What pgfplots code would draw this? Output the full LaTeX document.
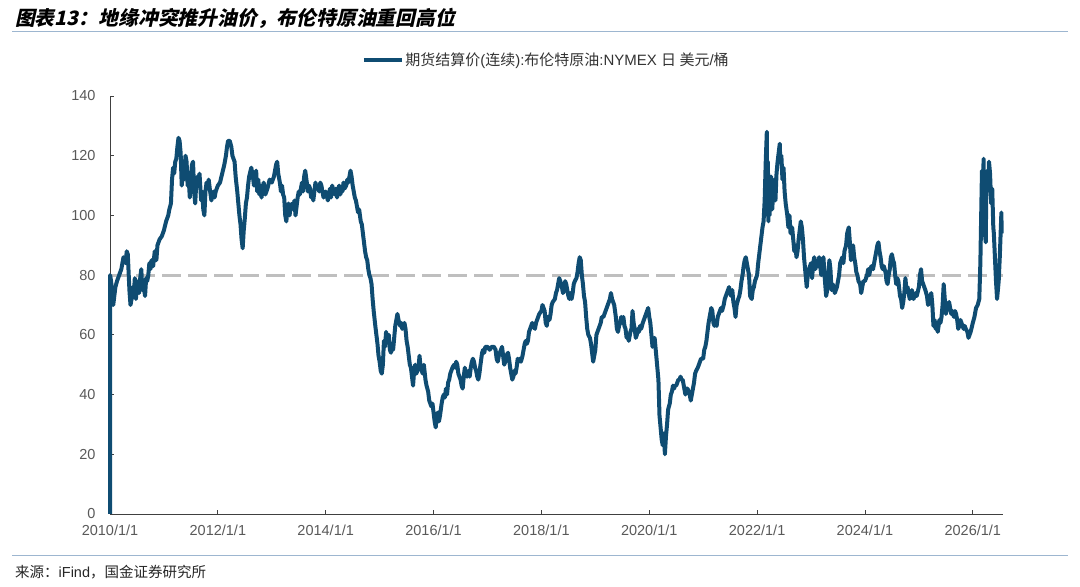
\documentclass[border=0pt]{standalone}
\usepackage{pgfplots}
\pgfplotsset{compat=1.18}
\usepackage{pgfplotstable}
\usepackage{fontspec}
\setmainfont{Liberation Sans}
\newfontfamily\cjk{Noto Sans CJK SC}
\newfontfamily\cjkt[FakeSlant=0.22]{Noto Sans CJK SC}
\definecolor{brent}{HTML}{0F4C72}
\definecolor{dashgray}{HTML}{BFBFBF}
\definecolor{tickgray}{HTML}{595959}
\definecolor{rulecol}{HTML}{9DB6D0}
\pgfplotstableread{
x y
2010.000 0
2010.002 80
2010.02 78
2010.04 74
2010.06 70
2010.08 73
2010.10 76
2010.13 78
2010.17 80
2010.21 82
2010.25 86
2010.29 84
2010.31 88
2010.33 87
2010.36 75
2010.38 70
2010.40 72
2010.42 76
2010.44 73
2010.46 79
2010.48 72
2010.50 76
2010.52 78
2010.54 74
2010.56 79
2010.58 82
2010.60 75
2010.62 77
2010.65 73
2010.67 79
2010.69 78
2010.71 80
2010.73 84
2010.75 82
2010.77 85
2010.80 83
2010.83 88
2010.86 85
2010.88 90
2010.92 92
2010.96 93
2011.00 95
2011.04 98
2011.08 100
2011.10 102
2011.13 104
2011.15 112
2011.17 116
2011.19 114
2011.21 118
2011.23 119
2011.25 123
2011.27 126
2011.29 125
2011.31 121
2011.33 110
2011.35 114
2011.37 112
2011.40 120
2011.42 118
2011.44 110
2011.46 112
2011.48 106
2011.50 113
2011.52 117
2011.54 118
2011.56 108
2011.58 104
2011.60 111
2011.62 113
2011.64 110
2011.66 114
2011.69 105
2011.71 108
2011.73 102
2011.75 100
2011.77 108
2011.79 111
2011.81 109
2011.83 112
2011.85 109
2011.88 105
2011.90 107
2011.92 108
2011.94 106
2011.96 108
2012.00 110
2012.04 111
2012.08 114
2012.12 117
2012.15 120
2012.17 123
2012.19 125
2012.22 125
2012.25 123
2012.27 120
2012.29 119
2012.31 118
2012.33 113
2012.36 108
2012.38 104
2012.40 100
2012.42 97
2012.44 92
2012.46 89
2012.48 95
2012.50 99
2012.52 104
2012.54 106
2012.56 110
2012.58 113
2012.62 116
2012.65 113
2012.67 110
2012.69 112
2012.71 115
2012.73 108
2012.75 112
2012.77 107
2012.79 110
2012.81 106
2012.83 109
2012.85 111
2012.88 107
2012.92 109
2012.96 112
2013.00 111
2013.04 113
2013.08 117
2013.10 118
2013.12 114
2013.15 111
2013.17 108
2013.19 110
2013.21 107
2013.23 106
2013.25 100
2013.27 98
2013.29 102
2013.31 104
2013.33 100
2013.35 103
2013.38 104
2013.40 102
2013.42 105
2013.44 100
2013.46 103
2013.48 106
2013.50 108
2013.52 107
2013.54 109
2013.56 111
2013.58 108
2013.60 113
2013.62 115
2013.65 111
2013.67 108
2013.69 110
2013.71 109
2013.73 106
2013.75 108
2013.77 105
2013.79 108
2013.81 111
2013.83 109
2013.85 110
2013.88 108
2013.90 111
2013.92 110
2013.96 106
2014.00 108
2014.04 105
2014.06 107
2014.08 109
2014.10 106
2014.12 110
2014.15 108
2014.17 107
2014.19 109
2014.21 106
2014.23 108
2014.25 110
2014.27 107
2014.29 109
2014.31 108
2014.33 111
2014.35 109
2014.38 110
2014.40 112
2014.42 111
2014.44 113
2014.46 115
2014.48 113
2014.50 110
2014.52 108
2014.54 106
2014.56 105
2014.58 103
2014.60 101
2014.62 102
2014.65 98
2014.67 97
2014.69 94
2014.71 91
2014.73 88
2014.75 86
2014.77 85
2014.79 82
2014.81 80
2014.83 79
2014.85 77
2014.87 72
2014.89 68
2014.92 63
2014.94 60
2014.96 57
2014.98 53
2015.00 51
2015.02 48
2015.04 47
2015.06 50
2015.08 58
2015.10 56
2015.12 61
2015.14 58
2015.17 60
2015.19 55
2015.21 54
2015.23 57
2015.25 55
2015.27 59
2015.29 63
2015.31 65
2015.33 67
2015.35 65
2015.38 63
2015.40 64
2015.42 62
2015.44 63
2015.46 64
2015.48 62
2015.50 58
2015.52 56
2015.54 53
2015.56 50
2015.58 49
2015.60 46
2015.62 43
2015.64 48
2015.66 50
2015.68 47
2015.70 48
2015.72 49
2015.74 53
2015.76 49
2015.78 48
2015.80 47
2015.82 50
2015.85 45
2015.87 43
2015.90 41
2015.92 38
2015.94 37
2015.96 36
2015.98 37
2016.00 34
2016.02 31
2016.04 29
2016.06 33
2016.08 34
2016.10 31
2016.12 33
2016.15 37
2016.17 39
2016.19 40
2016.21 39
2016.23 42
2016.25 40
2016.27 44
2016.29 45
2016.31 47
2016.33 48
2016.35 49
2016.38 50
2016.40 49
2016.42 51
2016.44 50
2016.46 47
2016.48 46
2016.50 45
2016.52 43
2016.54 42
2016.56 46
2016.58 49
2016.60 47
2016.62 46
2016.65 48
2016.67 46
2016.69 49
2016.71 51
2016.73 52
2016.75 51
2016.77 49
2016.79 48
2016.81 46
2016.83 45
2016.85 47
2016.87 50
2016.90 54
2016.92 55
2016.94 54
2016.96 56
2017.00 56
2017.04 55
2017.08 56
2017.12 56
2017.15 55
2017.17 52
2017.19 51
2017.21 53
2017.25 55
2017.27 56
2017.29 53
2017.31 50
2017.33 51
2017.35 53
2017.38 54
2017.40 52
2017.42 49
2017.44 47
2017.46 45
2017.48 46
2017.50 48
2017.52 47
2017.54 49
2017.56 52
2017.58 51
2017.60 52
2017.62 51
2017.65 53
2017.67 55
2017.69 57
2017.71 58
2017.73 57
2017.75 58
2017.77 61
2017.79 62
2017.81 63
2017.83 64
2017.85 63
2017.88 62
2017.90 64
2017.92 65
2017.96 67
2018.00 68
2018.02 70
2018.04 69
2018.06 68
2018.08 64
2018.10 63
2018.12 66
2018.15 65
2018.17 67
2018.19 70
2018.21 71
2018.25 72
2018.27 74
2018.29 75
2018.31 77
2018.33 79
2018.35 78
2018.38 76
2018.40 74
2018.42 75
2018.44 78
2018.46 77
2018.48 75
2018.50 73
2018.52 72
2018.54 74
2018.56 72
2018.58 74
2018.60 77
2018.62 78
2018.65 79
2018.67 81
2018.69 84
2018.71 86
2018.73 85
2018.75 80
2018.77 77
2018.79 73
2018.81 71
2018.83 66
2018.85 62
2018.87 60
2018.90 59
2018.92 57
2018.94 54
2018.96 51
2018.98 53
2019.00 55
2019.02 60
2019.04 61
2019.06 62
2019.08 63
2019.10 64
2019.12 66
2019.15 66
2019.17 67
2019.19 68
2019.21 69
2019.23 70
2019.25 71
2019.27 72
2019.29 74
2019.31 72
2019.33 71
2019.35 70
2019.38 66
2019.40 62
2019.42 61
2019.44 63
2019.46 64
2019.48 66
2019.50 64
2019.52 66
2019.54 63
2019.56 62
2019.58 59
2019.60 60
2019.62 58
2019.65 61
2019.67 62
2019.69 68
2019.71 64
2019.73 62
2019.75 59
2019.77 60
2019.79 62
2019.81 61
2019.83 63
2019.85 62
2019.88 64
2019.90 65
2019.92 66
2019.94 67
2019.96 68
2019.98 69
2020.00 66
2020.02 64
2020.04 60
2020.06 56
2020.08 57
2020.10 59
2020.12 55
2020.14 51
2020.17 45
2020.19 33
2020.21 29
2020.23 25
2020.25 23
2020.27 27
2020.29 20
2020.31 26
2020.33 30
2020.35 35
2020.38 37
2020.40 40
2020.42 41
2020.44 43
2020.46 42
2020.48 43
2020.50 43
2020.52 44
2020.54 45
2020.56 45
2020.58 46
2020.60 45
2020.62 45
2020.65 42
2020.67 40
2020.69 42
2020.71 42
2020.73 41
2020.75 40
2020.77 38
2020.79 40
2020.81 42
2020.83 44
2020.85 47
2020.87 48
2020.90 49
2020.92 50
2020.94 51
2020.96 52
2021.00 52
2021.02 55
2021.04 56
2021.06 58
2021.08 61
2021.10 64
2021.12 66
2021.15 69
2021.17 68
2021.19 64
2021.21 63
2021.23 64
2021.25 63
2021.27 66
2021.29 67
2021.31 68
2021.33 69
2021.35 68
2021.38 70
2021.40 72
2021.42 73
2021.44 74
2021.46 75
2021.48 76
2021.50 74
2021.52 73
2021.54 75
2021.56 71
2021.58 69
2021.60 66
2021.62 70
2021.65 72
2021.67 73
2021.69 75
2021.71 78
2021.73 80
2021.75 83
2021.77 85
2021.79 86
2021.81 84
2021.83 82
2021.85 80
2021.87 73
2021.90 72
2021.92 75
2021.94 76
2021.96 78
2022.00 80
2022.02 84
2022.04 87
2022.06 90
2022.08 93
2022.10 96
2022.12 98
2022.14 105
2022.16 118
2022.18 128
2022.19 100
2022.20 118
2022.21 98
2022.22 112
2022.23 100
2022.24 110
2022.25 104
2022.26 113
2022.28 102
2022.30 108
2022.32 112
2022.34 105
2022.36 114
2022.38 118
2022.40 121
2022.42 124
2022.43 118
2022.45 120
2022.47 112
2022.49 116
2022.51 108
2022.53 104
2022.56 100
2022.58 96
2022.60 100
2022.62 94
2022.65 96
2022.67 92
2022.69 88
2022.71 90
2022.73 86
2022.75 88
2022.77 92
2022.79 95
2022.81 98
2022.83 96
2022.85 92
2022.87 86
2022.90 80
2022.92 76
2022.94 80
2022.96 82
2023.00 84
2023.02 79
2023.04 84
2023.06 86
2023.08 82
2023.10 84
2023.12 83
2023.15 86
2023.17 83
2023.19 80
2023.21 82
2023.23 86
2023.25 80
2023.28 73
2023.30 75
2023.32 80
2023.34 85
2023.36 82
2023.38 75
2023.40 77
2023.42 76
2023.44 74
2023.46 75
2023.48 76
2023.50 78
2023.52 80
2023.54 84
2023.56 85
2023.58 86
2023.60 84
2023.62 88
2023.65 90
2023.67 94
2023.70 96
2023.72 91
2023.74 85
2023.76 88
2023.78 90
2023.80 86
2023.82 84
2023.84 81
2023.86 80
2023.88 78
2023.91 77
2023.93 74
2023.95 76
2023.97 78
2024.00 78
2024.02 79
2024.04 80
2024.06 82
2024.08 80
2024.10 82
2024.12 83
2024.15 82
2024.17 84
2024.19 86
2024.21 88
2024.23 90
2024.25 91
2024.27 88
2024.29 86
2024.31 83
2024.33 82
2024.35 83
2024.38 81
2024.40 78
2024.42 77
2024.44 80
2024.46 82
2024.48 86
2024.50 87
2024.52 85
2024.54 84
2024.56 80
2024.58 77
2024.60 79
2024.62 78
2024.65 73
2024.67 72
2024.69 69
2024.71 71
2024.73 74
2024.75 79
2024.77 75
2024.79 76
2024.81 74
2024.83 72
2024.85 73
2024.87 75
2024.90 72
2024.92 73
2024.94 74
2024.96 73
2025.00 76
2025.02 80
2025.04 82
2025.06 78
2025.08 77
2025.10 76
2025.12 75
2025.15 73
2025.17 70
2025.19 71
2025.21 73
2025.23 74
2025.25 70
2025.27 63
2025.29 65
2025.31 62
2025.33 64
2025.35 61
2025.38 65
2025.40 64
2025.42 66
2025.44 70
2025.46 77
2025.48 72
2025.50 67
2025.52 69
2025.54 70
2025.56 71
2025.58 69
2025.60 67
2025.62 68
2025.65 66
2025.67 68
2025.69 67
2025.71 65
2025.73 62
2025.75 63
2025.77 65
2025.79 64
2025.81 63
2025.83 62
2025.85 63
2025.87 62
2025.90 61
2025.92 59
2025.94 60
2025.96 61
2026.00 64
2026.03 66
2026.06 69
2026.09 70
2026.12 72
2026.14 84
2026.16 105
2026.17 115
2026.19 110
2026.20 119
2026.21 104
2026.22 95
2026.24 91
2026.25 108
2026.27 115
2026.29 110
2026.30 118
2026.32 114
2026.34 104
2026.36 109
2026.38 96
2026.39 94
2026.41 86
2026.43 78
2026.45 72
2026.47 76
2026.48 78
2026.50 86
2026.52 96
2026.53 101
2026.535 94
}\brent
\begin{document}
\begin{tikzpicture}
\useasboundingbox (0,0) rectangle (1080bp,587bp);
% title
\node[anchor=west, inner sep=0pt] at (15bp,569bp)
  {\fontsize{19.8bp}{22bp}\selectfont\cjkt\bfseries 图表13：地缘冲突推升油价，布伦特原油重回高位};
\draw[rulecol, line width=1bp] (12bp,555bp) -- (1068bp,555bp);
\draw[rulecol, line width=1bp] (12bp,31bp) -- (1068bp,31bp);
\node[anchor=west, inner sep=0pt, text=black!85] at (15bp,15bp)
  {\fontsize{14.5bp}{16bp}\selectfont\cjk 来源：\rmfamily iFind\cjk ，国金证券研究所};
\begin{axis}[
  at={(110bp,73bp)}, anchor=south west,
  scale only axis, width=893bp, height=418bp,
  xmin=2010, xmax=2026.56, ymin=0, ymax=140,
  axis lines=left,
  axis line style={-, draw=black!75, line width=0.9bp},
  tick align=inside,
  major tick length=4bp,
  tick style={draw=black!75, line width=0.8bp},
  xtick={2010,2012,2014,2016,2018,2020,2022,2024,2026},
  xticklabels={2010/1/1,2012/1/1,2014/1/1,2016/1/1,2018/1/1,2020/1/1,2022/1/1,2024/1/1,2026/1/1},
  ytick={0,20,...,140},
  /pgf/number format/assume math mode=true,
  tick label style={font=\fontsize{14.5bp}{16bp}\selectfont, text=tickgray},
  xticklabel style={yshift=-7bp},
  yticklabel style={xshift=-11bp},
  clip=false,
  legend style={draw=none, fill=none, at={(0.282,1.086)}, anchor=west,
    inner sep=0pt, outer sep=0pt,
    font=\fontsize{15bp}{17bp}\selectfont, text=black!80,
    nodes={inner sep=1.5bp}},
  legend image code/.code={\draw[#1] (0bp,0bp) -- (38bp,0bp);},
]
\addplot[dashgray, line width=3bp, dash pattern=on 19bp off 7bp, forget plot]
  coordinates {(2010,80) (2026.56,80)};
\addplot[brent, line width=4bp, line join=round] table[x=x,y=y]{\brent};
\addlegendentry{\cjk 期货结算价\rmfamily(\cjk 连续\rmfamily):\cjk 布伦特原油\rmfamily:NYMEX \cjk 日 美元\rmfamily/\cjk 桶}
\end{axis}
\end{tikzpicture}
\end{document}
